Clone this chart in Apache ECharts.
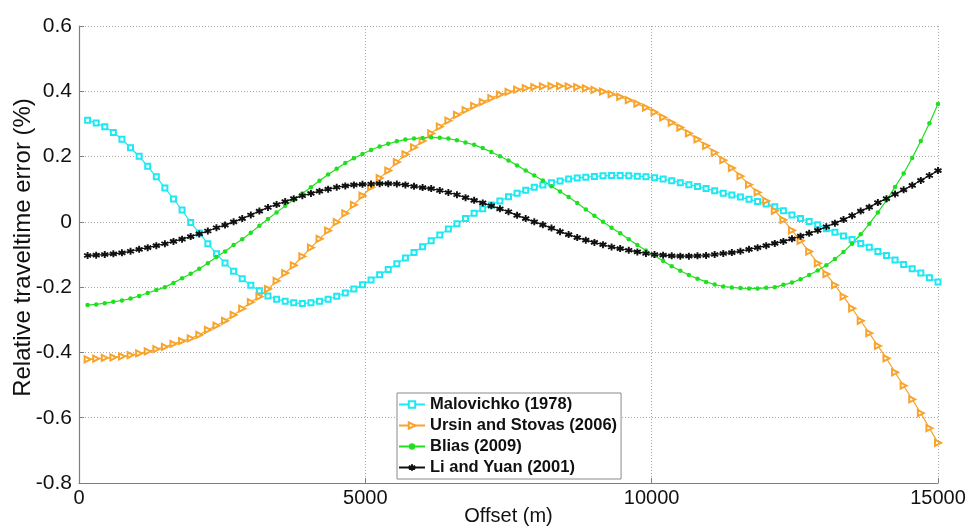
<!DOCTYPE html>
<html>
<head>
<meta charset="utf-8">
<title>Relative traveltime error</title>
<script src="https://cdn.jsdelivr.net/npm/echarts@6/dist/echarts.min.js"></script>
<style>
html, body { margin: 0; padding: 0; background: #fff; }
#chart { width: 974px; height: 530px; }
</style>
</head>
<body>
<div id="chart"></div>
<script>
// offsets (m) of the plotted samples
var offsets = [
  150, 300, 450, 600, 750, 900, 1050, 1200, 1350, 1500,
  1650, 1800, 1950, 2100, 2250, 2400, 2550, 2700, 2850, 3000,
  3150, 3300, 3450, 3600, 3750, 3900, 4050, 4200, 4350, 4500,
  4650, 4800, 4950, 5100, 5250, 5400, 5550, 5700, 5850, 6000,
  6150, 6300, 6450, 6600, 6750, 6900, 7050, 7200, 7350, 7500,
  7650, 7800, 7950, 8100, 8250, 8400, 8550, 8700, 8850, 9000,
  9150, 9300, 9450, 9600, 9750, 9900, 10050, 10200, 10350, 10500,
  10650, 10800, 10950, 11100, 11250, 11400, 11550, 11700, 11850, 12000,
  12150, 12300, 12450, 12600, 12750, 12900, 13050, 13200, 13350, 13500,
  13650, 13800, 13950, 14100, 14250, 14400, 14550, 14700, 14850, 15000
];

var malovichko = [
  0.311, 0.303, 0.291, 0.274, 0.253, 0.227, 0.201, 0.170, 0.138, 0.104,
  0.070, 0.036, -0.002, -0.034, -0.067, -0.098, -0.126, -0.151, -0.174, -0.194,
  -0.211, -0.227, -0.237, -0.243, -0.248, -0.250, -0.248, -0.243, -0.237, -0.228,
  -0.218, -0.206, -0.193, -0.178, -0.162, -0.146, -0.128, -0.111, -0.094, -0.076,
  -0.058, -0.040, -0.022, -0.006, 0.010, 0.026, 0.040, 0.052, 0.064, 0.077,
  0.088, 0.097, 0.106, 0.113, 0.120, 0.125, 0.131, 0.134, 0.137, 0.139,
  0.141, 0.142, 0.142, 0.141, 0.140, 0.138, 0.135, 0.131, 0.126, 0.120,
  0.114, 0.108, 0.102, 0.095, 0.088, 0.082, 0.076, 0.069, 0.062, 0.055,
  0.046, 0.034, 0.021, 0.010, 0.001, -0.009, -0.021, -0.032, -0.043, -0.054,
  -0.066, -0.078, -0.091, -0.103, -0.117, -0.131, -0.144, -0.157, -0.171, -0.184
];

var ursinStovas = [
  -0.421, -0.419, -0.417, -0.415, -0.412, -0.408, -0.403, -0.397, -0.390, -0.383,
  -0.374, -0.365, -0.357, -0.346, -0.331, -0.318, -0.303, -0.285, -0.266, -0.246,
  -0.229, -0.206, -0.181, -0.157, -0.133, -0.106, -0.079, -0.052, -0.027, -0.001,
  0.026, 0.052, 0.080, 0.106, 0.134, 0.157, 0.183, 0.207, 0.228, 0.248,
  0.271, 0.292, 0.310, 0.328, 0.342, 0.355, 0.367, 0.379, 0.390, 0.398,
  0.405, 0.410, 0.413, 0.415, 0.416, 0.416, 0.415, 0.413, 0.409, 0.404,
  0.399, 0.391, 0.383, 0.373, 0.362, 0.350, 0.336, 0.320, 0.304, 0.289,
  0.271, 0.253, 0.233, 0.212, 0.189, 0.165, 0.140, 0.114, 0.090, 0.064,
  0.034, 0.006, -0.026, -0.058, -0.091, -0.127, -0.160, -0.194, -0.229, -0.265,
  -0.303, -0.341, -0.380, -0.418, -0.461, -0.502, -0.544, -0.586, -0.632, -0.677
];

var blias = [
  -0.255, -0.253, -0.249, -0.245, -0.241, -0.235, -0.227, -0.218, -0.209, -0.200,
  -0.187, -0.173, -0.159, -0.144, -0.127, -0.108, -0.091, -0.071, -0.053, -0.033,
  -0.012, 0.009, 0.029, 0.049, 0.068, 0.087, 0.106, 0.126, 0.145, 0.163,
  0.180, 0.195, 0.208, 0.220, 0.231, 0.239, 0.247, 0.252, 0.255, 0.257,
  0.259, 0.258, 0.255, 0.250, 0.243, 0.236, 0.226, 0.214, 0.201, 0.188,
  0.173, 0.157, 0.142, 0.127, 0.109, 0.093, 0.076, 0.058, 0.038, 0.019,
  0.000, -0.018, -0.035, -0.053, -0.071, -0.088, -0.104, -0.120, -0.136, -0.150,
  -0.163, -0.174, -0.184, -0.192, -0.198, -0.201, -0.203, -0.204, -0.204, -0.202,
  -0.200, -0.193, -0.186, -0.176, -0.163, -0.149, -0.133, -0.114, -0.092, -0.067,
  -0.038, -0.006, 0.029, 0.066, 0.107, 0.148, 0.196, 0.248, 0.302, 0.361
];

var liYuan = [
  -0.103, -0.102, -0.100, -0.098, -0.095, -0.090, -0.084, -0.079, -0.073, -0.067,
  -0.060, -0.053, -0.045, -0.037, -0.028, -0.018, -0.010, 0.000, 0.010, 0.021,
  0.033, 0.044, 0.053, 0.062, 0.071, 0.080, 0.087, 0.094, 0.100, 0.106,
  0.110, 0.113, 0.115, 0.116, 0.117, 0.117, 0.116, 0.113, 0.109, 0.105,
  0.102, 0.096, 0.090, 0.083, 0.074, 0.066, 0.058, 0.049, 0.040, 0.031,
  0.020, 0.010, 0.000, -0.009, -0.019, -0.030, -0.039, -0.048, -0.056, -0.063,
  -0.070, -0.077, -0.082, -0.087, -0.092, -0.097, -0.100, -0.102, -0.104, -0.105,
  -0.105, -0.104, -0.103, -0.100, -0.097, -0.094, -0.090, -0.084, -0.079, -0.073,
  -0.066, -0.060, -0.052, -0.044, -0.035, -0.026, -0.015, -0.004, 0.007, 0.019,
  0.033, 0.045, 0.059, 0.071, 0.085, 0.098, 0.112, 0.127, 0.142, 0.157
];

var seriesNames = ['Malovichko (1978)', 'Ursin and Stovas (2006)', 'Blias (2009)', 'Li and Yuan (2001)'];
var xTicks = [0, 5000, 10000, 15000];
var yTicks = [-0.8, -0.6, -0.4, -0.2, 0, 0.2, 0.4, 0.6];

function pairs(ys) {
  return ys.map(function (y, i) { return [offsets[i], y]; });
}

var axisGray = '#7f7f7f';
var gridDots = { type: [1, 2], color: '#a8a8a8', width: 1 };
var font = '"Liberation Sans", Arial, sans-serif';
var star = 'path://M5,0L5,10M0.7,2.5L9.3,7.5M0.7,7.5L9.3,2.5';

var chart = echarts.init(document.getElementById('chart'));
chart.setOption({
  animation: false,
  backgroundColor: '#fff',
  grid: { left: 79, right: 36, top: 26, bottom: 47, outerBoundsMode: 'none' },
  legend: {
    orient: 'vertical',
    left: 397,
    top: 393,
    data: seriesNames,
    itemWidth: 26,
    itemHeight: 8,
    itemGap: 4,
    padding: [3, 4, 3, 1],
    backgroundColor: '#fff',
    borderColor: '#8a8a8a',
    borderWidth: 1,
    textStyle: { fontFamily: font, fontWeight: 'bold', fontSize: 16.5, color: '#111' }
  },
  xAxis: {
    type: 'value',
    min: xTicks[0],
    max: xTicks[xTicks.length - 1],
    interval: 5000,
    name: 'Offset (m)',
    nameLocation: 'middle',
    nameGap: 23,
    nameMoveOverlap: false,
    nameTextStyle: { fontFamily: font, fontSize: 20, color: '#111' },
    axisLine: { show: true, onZero: false, lineStyle: { color: axisGray, width: 1.2 } },
    axisTick: { show: true, inside: true, length: 5, lineStyle: { color: axisGray } },
    axisLabel: {
      fontFamily: font, fontSize: 20, color: '#111', margin: 5,
      formatter: function (v) { return String(v); }
    },
    splitLine: { show: true, lineStyle: gridDots }
  },
  yAxis: {
    type: 'value',
    min: yTicks[0],
    max: yTicks[yTicks.length - 1],
    interval: 0.2,
    name: 'Relative traveltime error (%)',
    nameLocation: 'middle',
    nameGap: 44,
    nameRotate: 90,
    nameMoveOverlap: false,
    nameTextStyle: { fontFamily: font, fontSize: 24, color: '#111', padding: [0, 0, 0, 14] },
    axisLine: { show: true, lineStyle: { color: axisGray, width: 1.2 } },
    axisTick: { show: true, inside: true, length: 5, lineStyle: { color: axisGray } },
    axisLabel: {
      fontFamily: font, fontSize: 21, color: '#111', margin: 7,
      formatter: function (v) { return String(+v.toFixed(1)); }
    },
    splitLine: { show: true, lineStyle: gridDots }
  },
  series: [
    {
      name: seriesNames[0], type: 'line', data: pairs(malovichko),
      symbol: 'emptyRect', symbolSize: 5,
      lineStyle: { color: '#1ee8f2', width: 1.2 },
      itemStyle: { color: '#1ee8f2', borderWidth: 1.1 }
    },
    {
      name: seriesNames[1], type: 'line', data: pairs(ursinStovas),
      symbol: 'emptyTriangle', symbolSize: 6, symbolRotate: -90,
      lineStyle: { color: '#f8a42c', width: 1.2 },
      itemStyle: { color: '#f8a42c', borderWidth: 1.1 }
    },
    {
      name: seriesNames[2], type: 'line', data: pairs(blias),
      symbol: 'circle', symbolSize: 4.5,
      lineStyle: { color: '#1fe01f', width: 1.2 },
      itemStyle: { color: '#1fe01f' }
    },
    {
      name: seriesNames[3], type: 'line', data: pairs(liYuan),
      symbol: star, symbolSize: 7,
      lineStyle: { color: '#111', width: 1.2 },
      itemStyle: { color: '#111', borderColor: '#111', borderWidth: 1.9 }
    }
  ]
});
</script>
</body>
</html>
